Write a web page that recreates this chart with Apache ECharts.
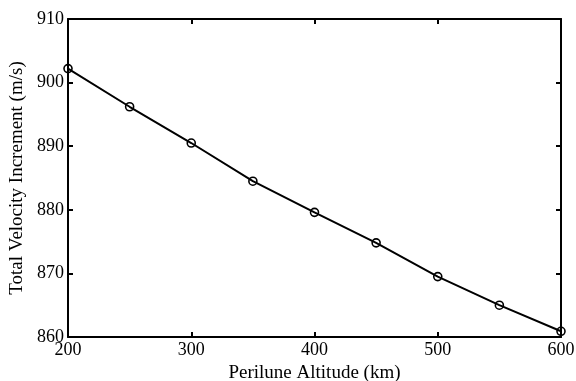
<!DOCTYPE html>
<html><head><meta charset="utf-8">
<script src="https://cdn.jsdelivr.net/npm/echarts@6/dist/echarts.min.js"></script>
<style>html,body{margin:0;padding:0;background:#fff}#c{width:576px;height:381px}</style>
</head><body><div id="c"></div>
<script>
const altitudes = [200, 250, 300, 350, 400, 450, 500, 550, 600];
const deltaV = [902.2, 896.2, 890.5, 884.5, 879.6, 874.8, 869.5, 865.0, 860.9];
const xTicks = [200, 300, 400, 500, 600];
const yTicks = [860, 870, 880, 890, 900, 910];
const xName = 'Perilune Altitude (km)';
const yName = 'Total Velocity Increment (m/s)';

const font = '"Liberation Serif", "Times New Roman", serif';
const chart = echarts.init(document.getElementById('c'), null, {renderer: 'canvas'});
const axisCommon = {
  axisLine: {show: true, onZero: false, lineStyle: {color: '#000', width: 2}},
  axisTick: {show: true, inside: true, length: 5, lineStyle: {color: '#000', width: 2}},
  splitLine: {show: false}
};
chart.setOption({
  animation: false,
  backgroundColor: '#fff',
  grid: {left: 68, right: 15, top: 19, bottom: 44, containLabel: false, outerBoundsMode: 'none'},
  xAxis: [
    Object.assign({type: 'value', min: xTicks[0], max: xTicks[xTicks.length-1], interval: 100,
      position: 'bottom', name: xName, nameLocation: 'middle', nameGap: 24,
      nameTextStyle: {fontFamily: font, fontSize: 19, color: '#000'},
      axisLabel: {fontFamily: font, fontSize: 18, color: '#000', margin: 4}}, axisCommon),
    Object.assign({type: 'value', min: xTicks[0], max: xTicks[xTicks.length-1], interval: 100,
      position: 'top', axisLabel: {show: false}}, axisCommon)
  ],
  yAxis: [
    Object.assign({type: 'value', min: yTicks[0], max: yTicks[yTicks.length-1], interval: 10,
      position: 'left', name: yName, nameLocation: 'middle', nameGap: 40,
      nameTextStyle: {fontFamily: font, fontSize: 19, color: '#000'},
      axisLabel: {fontFamily: font, fontSize: 18, color: '#000', margin: 4}}, axisCommon),
    Object.assign({type: 'value', min: yTicks[0], max: yTicks[yTicks.length-1], interval: 10,
      position: 'right', axisLabel: {show: false}}, axisCommon)
  ],
  series: [{
    type: 'line',
    data: altitudes.map((a, i) => [a, deltaV[i]]),
    symbol: 'circle', symbolSize: 8, showSymbol: true,
    lineStyle: {color: '#000', width: 2},
    itemStyle: {color: 'rgba(0,0,0,0)', borderColor: '#000', borderWidth: 1.6},
    z: 5, clip: false
  }]
});
</script></body></html>
